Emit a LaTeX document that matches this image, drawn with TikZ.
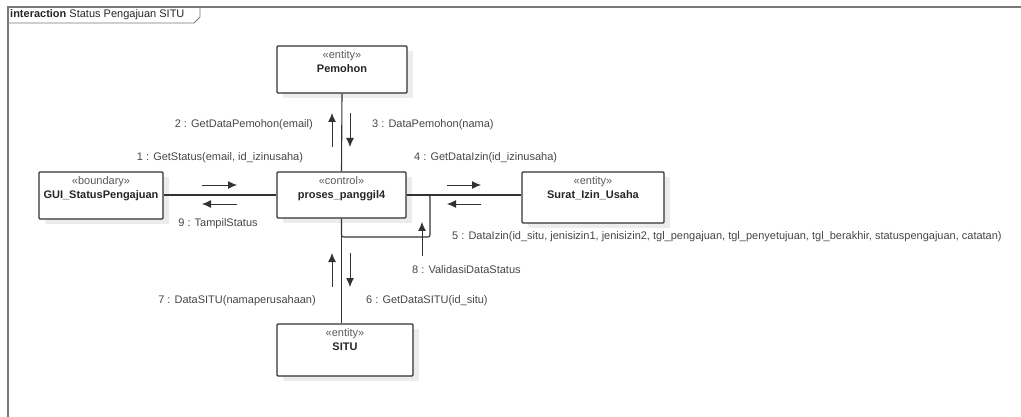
\documentclass[tikz,border=0pt]{standalone}
\usepackage{fontspec}
\setmainfont{Liberation Sans}
\usepackage{tikz}
\usetikzlibrary{arrows.meta,positioning,shadows}
\definecolor{linegray}{RGB}{50,50,50}
\definecolor{textgray}{RGB}{70,70,70}
\definecolor{stereogray}{RGB}{90,90,90}
\definecolor{shadowgray}{RGB}{236,236,236}
\definecolor{framegray}{RGB}{120,120,120}
\newcommand{\stereo}[1]{{\mdseries\color{stereogray}\guillemotleft#1\guillemotright}}

\begin{document}
\begin{tikzpicture}[
  x=1pt, y=-1pt,
  font=\fontsize{11}{13.5}\selectfont,
  obj/.style={draw=linegray, line width=1.1pt, fill=white, rounded corners=1pt,
    drop shadow={shadow xshift=6pt, shadow yshift=-5pt, fill=shadowgray, opacity=1}},
  objtext/.style={align=center, inner sep=0pt, text=black!85, font=\fontsize{11}{13.5}\selectfont\bfseries},
  link/.style={draw=linegray, line width=1.1pt},
  msg/.style={draw=linegray, line width=0.9pt, -{Latex[length=9pt,width=8pt]}},
  msglabel/.style={text=textgray, inner sep=1pt}
]
\useasboundingbox (0,0) rectangle (1021,417);

% frame
\draw[framegray, line width=1.2pt] (1021,7) -- (8,7) -- (8,417);
\draw[framegray, line width=0.8pt] (8,23) -- (194,23) -- (200,17) -- (200,7);
\node[anchor=west, inner sep=0pt, text=black!85] (frametitle) at (10,15)
  {\textbf{interaction} Status Pengajuan SITU};

% objects
\node[obj, minimum width=130pt, minimum height=47pt] (pemohon) at (342,69.5) {};
\node[obj, minimum width=124pt, minimum height=47pt] (gui) at (101,195.5) {};
\node[obj, minimum width=129pt, minimum height=46pt] (ctrl) at (341.5,195) {};
\node[obj, minimum width=142pt, minimum height=51pt] (surat) at (593,197.5) {};
\node[obj, minimum width=136pt, minimum height=52pt] (situ) at (345,350) {};

\node[objtext, below=5pt of pemohon.north] (pemohon-t) {\stereo{entity}\\Pemohon};
\node[objtext, below=5pt of gui.north] (gui-t) {\stereo{boundary}\\GUI\_StatusPengajuan};
\node[objtext, below=5pt of ctrl.north] (ctrl-t) {\stereo{control}\\proses\_panggil4};
\node[objtext, below=5pt of surat.north] (surat-t) {\stereo{entity}\\Surat\_Izin\_Usaha};
\node[objtext, below=5pt of situ.north] (situ-t) {\stereo{entity}\\SITU};

% links
\coordinate (loopc) at (430,237);
\draw[link] (pemohon.south) -- (ctrl.north);
\draw[link] (gui.east |- ctrl.west) -- (ctrl.west);
\draw[link] (ctrl.east) -- (surat.west |- ctrl.east);
\draw[link, rounded corners=2pt] (ctrl.east) -| (loopc) -| (ctrl.south);
\draw[link] (ctrl.south) -- (ctrl.south |- situ.north);

% message arrows
\coordinate (m1a) at (202,185); \coordinate (m1b) at (237,185);
\coordinate (m9a) at (237,204); \coordinate (m9b) at (202,204);
\coordinate (m2a) at (332,147); \coordinate (m2b) at (332,113);
\coordinate (m3a) at (350,113); \coordinate (m3b) at (350,147);
\coordinate (m4a) at (447,185); \coordinate (m4b) at (481,185);
\coordinate (m5a) at (481,204); \coordinate (m5b) at (447,204);
\coordinate (m8a) at (422,256); \coordinate (m8b) at (422,222);
\coordinate (m6a) at (350,253); \coordinate (m6b) at (350,287);
\coordinate (m7a) at (332,287); \coordinate (m7b) at (332,253);
\foreach \m in {1,...,9}{
  \draw[msg] (m\m a) -- (m\m b);
}

% message labels
\node[msglabel] (l1) at (220,158) {1 : GetStatus(email, id\_izinusaha)};
\node[msglabel] (l9) at (218,224) {9 : TampilStatus};
\node[msglabel, anchor=east] (l2) at (314,125) {2 : GetDataPemohon(email)};
\node[msglabel, anchor=west] (l3) at (371,125) {3 : DataPemohon(nama)};
\node[msglabel, anchor=west] (l4) at (413,158) {4 : GetDataIzin(id\_izinusaha)};
\node[msglabel, anchor=west] (l5) at (451,237) {5 : DataIzin(id\_situ, jenisizin1, jenisizin2, tgl\_pengajuan, tgl\_penyetujuan, tgl\_berakhir, statuspengajuan, catatan)};
\node[msglabel, anchor=west] (l8) at (411,270) {8 : ValidasiDataStatus};
\node[msglabel, anchor=west] (l6) at (365,301) {6 : GetDataSITU(id\_situ)};
\node[msglabel, anchor=east] (l7) at (317,301) {7 : DataSITU(namaperusahaan)};
\end{tikzpicture}
\end{document}
